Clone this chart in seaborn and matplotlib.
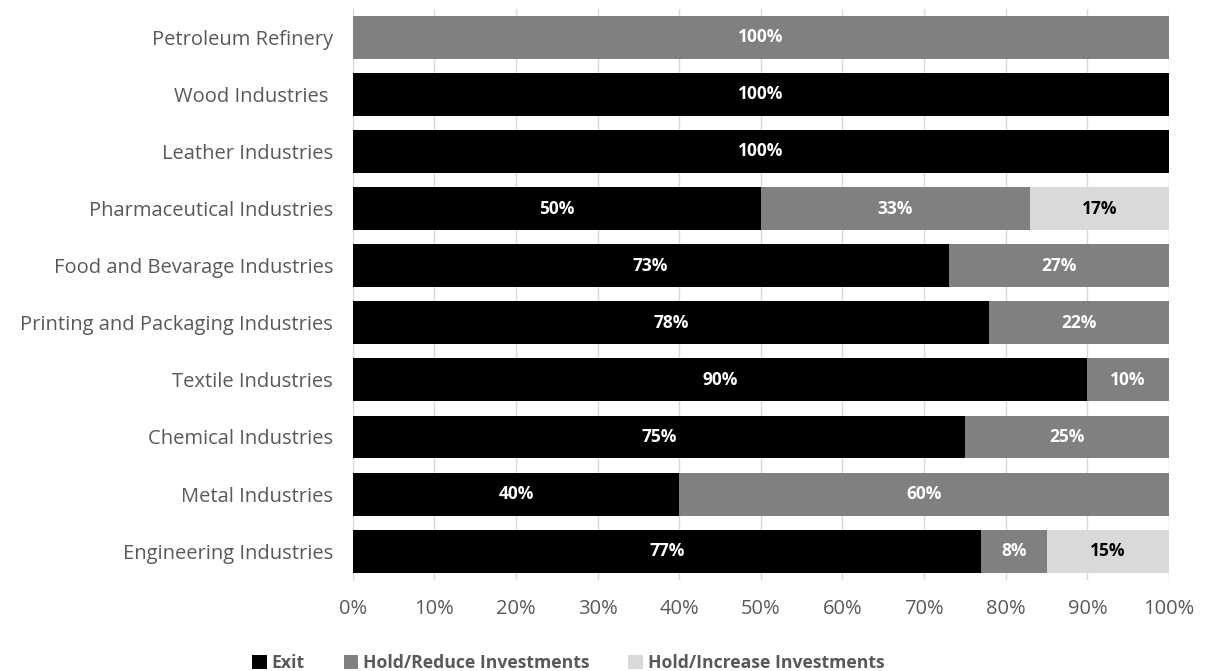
import numpy as np
import pandas as pd
import matplotlib.pyplot as plt
import seaborn as sns
from matplotlib.patches import Patch

# data, top to bottom
industries = ['Petroleum Refinery', 'Wood Industries ', 'Leather Industries',
              'Pharmaceutical Industries', 'Food and Bevarage Industries',
              'Printing and Packaging Industries', 'Textile Industries',
              'Chemical Industries', 'Metal Industries', 'Engineering Industries']
exit_pct = [0, 100, 100, 50, 73, 78, 90, 75, 40, 77]
reduce_pct = [100, 0, 0, 33, 27, 22, 10, 25, 60, 8]
increase_pct = [0, 0, 0, 17, 0, 0, 0, 0, 0, 15]
series_names = ['Exit', 'Hold/Reduce Investments', 'Hold/Increase Investments']
colors = ['#000000', '#808080', '#d9d9d9']
text_colors = ['white', 'white', 'black']

sns.set_style('white')
plt.rcParams['font.family'] = ['Open Sans', 'DejaVu Sans']

df = pd.DataFrame({'industry': industries, 'exit': exit_pct,
                   'reduce': reduce_pct, 'increase': increase_pct})
df['cum1'] = df['exit']
df['cum2'] = df['exit'] + df['reduce']
df['cum3'] = df['cum2'] + df['increase']

fig, ax = plt.subplots(figsize=(12.12, 6.71), dpi=100)
fig.subplots_adjust(left=0.291, right=0.9645, top=0.987, bottom=0.136)

# draw cumulative bars back to front so they look stacked
for col, c in zip(['cum3', 'cum2', 'cum1'], colors[::-1]):
    sns.barplot(data=df, x=col, y='industry', color=c, width=0.75,
                orient='h', ax=ax, saturation=1, linewidth=0, zorder=3)

# segment labels
for i, row in df.iterrows():
    start = 0
    for val, tc in zip([row['exit'], row['reduce'], row['increase']], text_colors):
        if val > 0:
            ax.text(start + val / 2, i, f'{val}%', ha='center', va='center',
                    color=tc, fontsize=12.5, fontweight='bold', zorder=4)
        start += val

ax.set_xlim(0, 100)
ax.set_xticks(np.arange(0, 101, 10))
ax.set_xticklabels([f'{t}%' for t in range(0, 101, 10)])
ax.set_xlabel('')
ax.set_ylabel('')
ax.grid(axis='x', color='#d9d9d9', linewidth=1, zorder=0)
ax.set_axisbelow(True)
for s in ['top', 'right', 'bottom']:
    ax.spines[s].set_visible(False)
ax.spines['left'].set_color('#d9d9d9')
ax.tick_params(axis='both', length=0, labelsize=14.5, labelcolor='#595959')
ax.tick_params(axis='x', pad=14)
ax.tick_params(axis='y', pad=14)

handles = [Patch(facecolor=c, edgecolor='none') for c in colors]
leg = fig.legend(handles, series_names, loc='lower center', ncol=3,
                 bbox_to_anchor=(0.469, -0.025), frameon=False,
                 handlelength=0.8, handleheight=0.8, handletextpad=0.3,
                 columnspacing=2.2, prop={'weight': 'bold', 'size': 12.7})
for t in leg.get_texts():
    t.set_color('#595959')

plt.savefig('out.png', dpi=100)
